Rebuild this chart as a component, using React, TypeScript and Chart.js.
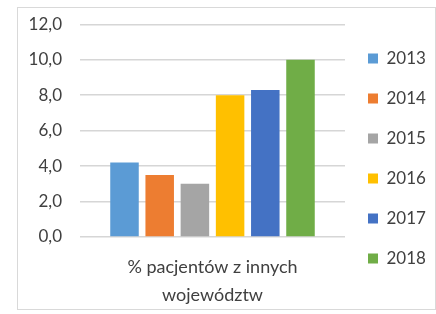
import React, { useEffect, useRef } from "react";
import { Chart, registerables } from "chart.js";

Chart.register(...registerables);

const categories = [["% pacjentów z innych", "województw"]];
const years = ["2013", "2014", "2015", "2016", "2017", "2018"];
const values = [4.2, 3.5, 3.0, 8.0, 8.3, 10.0];
const colors = ["#5B9BD5", "#ED7D31", "#A5A5A5", "#FFC000", "#4472C4", "#70AD47"];
const yMin = 0;
const yMax = 12;
const yStep = 2;

const W = 417;
const H = 301;

export default function App() {
  const ref = useRef<HTMLCanvasElement | null>(null);
  useEffect(() => {
    if (!ref.current) return;
    const font = { family: "Lato, 'Open Sans', sans-serif", size: 17 };
    const legendWidthPlugin = {
      id: "legendWidth",
      afterInit(chart: any) {
        const lg = chart.legend;
        if (!lg) return;
        const orig = lg.fit.bind(lg);
        lg.fit = function () {
          orig();
          this.width = 90;
        };
      },
    };
    const chart = new Chart(ref.current, {
      type: "bar",
      data: {
        labels: categories as any,
        datasets: years.map((y, i) => ({
          label: y,
          data: [values[i]],
          backgroundColor: colors[i],
          borderWidth: 0,
          barPercentage: 0.81,
          categoryPercentage: 0.797,
        })),
      },
      plugins: [legendWidthPlugin],
      options: {
        animation: false,
        responsive: false,
        layout: { padding: 0 },
        plugins: {
          tooltip: { enabled: false },
          legend: {
            position: "right",
            labels: {
              boxWidth: 10,
              boxHeight: 10,
              padding: 23,
              color: "#404040",
              font,
            },
          },
        },
        scales: {
          x: {
            grid: { display: false, drawTicks: false },
            border: { display: false },
            ticks: {
              color: "#404040",
              font: { family: font.family, size: 18, lineHeight: 28 / 18 },
              padding: 16,
              maxRotation: 0,
              minRotation: 0,
            },
            afterFit(scale: any) {
              scale.height = 72;
              scale.paddingLeft = 0;
              scale.paddingRight = 0;
            },
          },
          y: {
            min: yMin,
            max: yMax,
            grid: { color: "#d6d6d6", lineWidth: 1.5, drawTicks: false },
            border: { display: false },
            ticks: {
              stepSize: yStep,
              color: "#404040",
              font,
              padding: 18,
              callback: (v: any) => Number(v).toFixed(1).replace(".", ","),
            },
            afterFit(scale: any) {
              scale.width = 62;
              scale.paddingTop = 16.3;
              scale.paddingBottom = 0;
            },
          },
        },
      },
    });
    return () => chart.destroy();
  }, []);
  return (
    <div
      style={{
        position: "absolute",
        left: 17,
        top: 7,
        width: W,
        height: H,
        border: "1px solid #d9d9d9",
        background: "#fff",
      }}
    >
      <canvas ref={ref} width={W} height={H} style={{ display: "block" }} />
    </div>
  );
}
